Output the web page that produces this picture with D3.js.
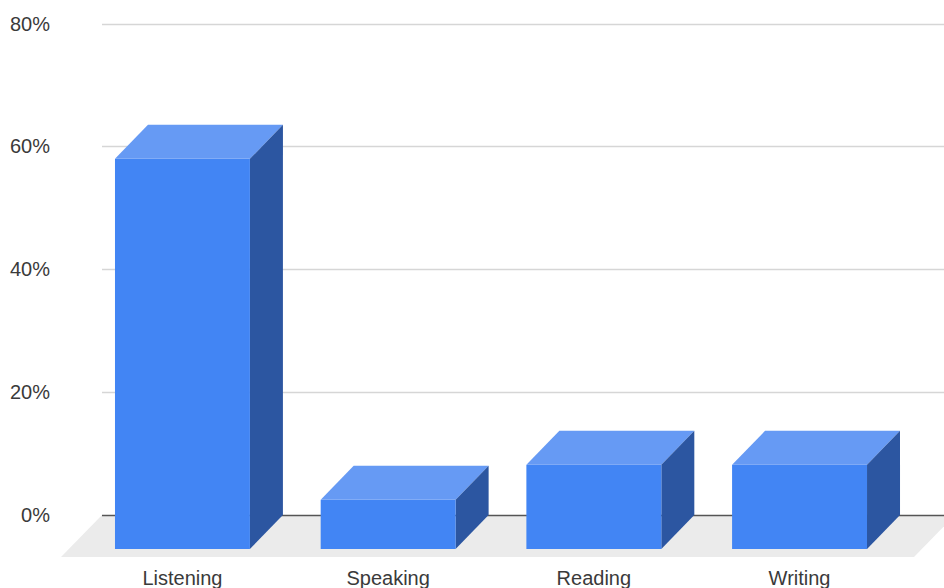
<!DOCTYPE html>
<html>
<head>
<meta charset="utf-8">
<script src="https://cdn.jsdelivr.net/npm/d3@7"></script>
<style>
  body { margin: 0; background: #fff; }
  svg { display: block; font-family: Arial, "Liberation Sans", sans-serif; }
</style>
</head>
<body>
<div id="chart"></div>
<script>
// data
const categories = ["Listening", "Speaking", "Reading", "Writing"];
const values = [63.5, 8.0, 13.7, 13.7];
const yTicks = [0, 20, 40, 60, 80];

const width = 944, height = 588;
const depthX = 33, depthY = 34;      // bar depth
const floorX = 41, floorY = 42;      // floor depth

const svg = d3.select("#chart").append("svg")
    .attr("width", width)
    .attr("height", height);

// y scale lives on the back plane (where the gridlines are)
const y = d3.scaleLinear().domain([0, 80]).range([515, 23.5]);

// x scale on the front plane of the bars
const x = d3.scaleBand()
    .domain(categories)
    .range([79.6, 902.4])
    .paddingInner(0.344)
    .paddingOuter(0.172);

// floor
const y0 = y(0);
svg.append("polygon")
    .attr("points", [
        [102, y0], [955, y0], [955 - floorX, y0 + floorY], [102 - floorX, y0 + floorY]
    ].map(p => p.join(",")).join(" "))
    .attr("fill", "#ebebeb");

// gridlines
svg.append("g")
    .selectAll("line")
    .data(yTicks)
    .enter()
    .append("line")
    .attr("x1", 102)
    .attr("x2", width)
    .attr("y1", d => Math.round(y(d)) + 0.5)
    .attr("y2", d => Math.round(y(d)) + 0.5)
    .attr("stroke", d => d === 0 ? "#555" : "#d6d6d6")
    .attr("stroke-width", 1.5);

// y labels
svg.append("g")
    .selectAll("text")
    .data(yTicks)
    .enter()
    .append("text")
    .attr("x", 50)
    .attr("y", d => y(d))
    .attr("dy", "0.35em")
    .attr("text-anchor", "end")
    .attr("font-size", 20)
    .attr("fill", "#3a3a3a")
    .text(d => d + "%");

// bars
const bars = svg.append("g")
    .selectAll("g")
    .data(categories.map((c, i) => ({ name: c, value: values[i] })))
    .enter()
    .append("g");

const front = d => {
    const x0 = x(d.name), x1 = x0 + x.bandwidth();
    const top = y(d.value) + depthY, bot = y0 + depthY;
    return { x0, x1, top, bot };
};

// top face
bars.append("polygon")
    .attr("points", d => {
        const f = front(d);
        return [[f.x0, f.top], [f.x1, f.top], [f.x1 + depthX, f.top - depthY], [f.x0 + depthX, f.top - depthY]]
            .map(p => p.join(",")).join(" ");
    })
    .attr("fill", "#669af4");

// side face
bars.append("polygon")
    .attr("points", d => {
        const f = front(d);
        return [[f.x1, f.top], [f.x1 + depthX, f.top - depthY], [f.x1 + depthX, f.bot - depthY], [f.x1, f.bot]]
            .map(p => p.join(",")).join(" ");
    })
    .attr("fill", "#2c56a1");

// front face
bars.append("rect")
    .attr("x", d => front(d).x0)
    .attr("y", d => front(d).top)
    .attr("width", x.bandwidth())
    .attr("height", d => front(d).bot - front(d).top)
    .attr("fill", "#4285f4");

// x labels
svg.append("g")
    .selectAll("text")
    .data(categories)
    .enter()
    .append("text")
    .attr("x", d => x(d) + x.bandwidth() / 2)
    .attr("y", 585)
    .attr("text-anchor", "middle")
    .attr("font-size", 20)
    .attr("fill", "#3a3a3a")
    .text(d => d);
</script>
</body>
</html>
